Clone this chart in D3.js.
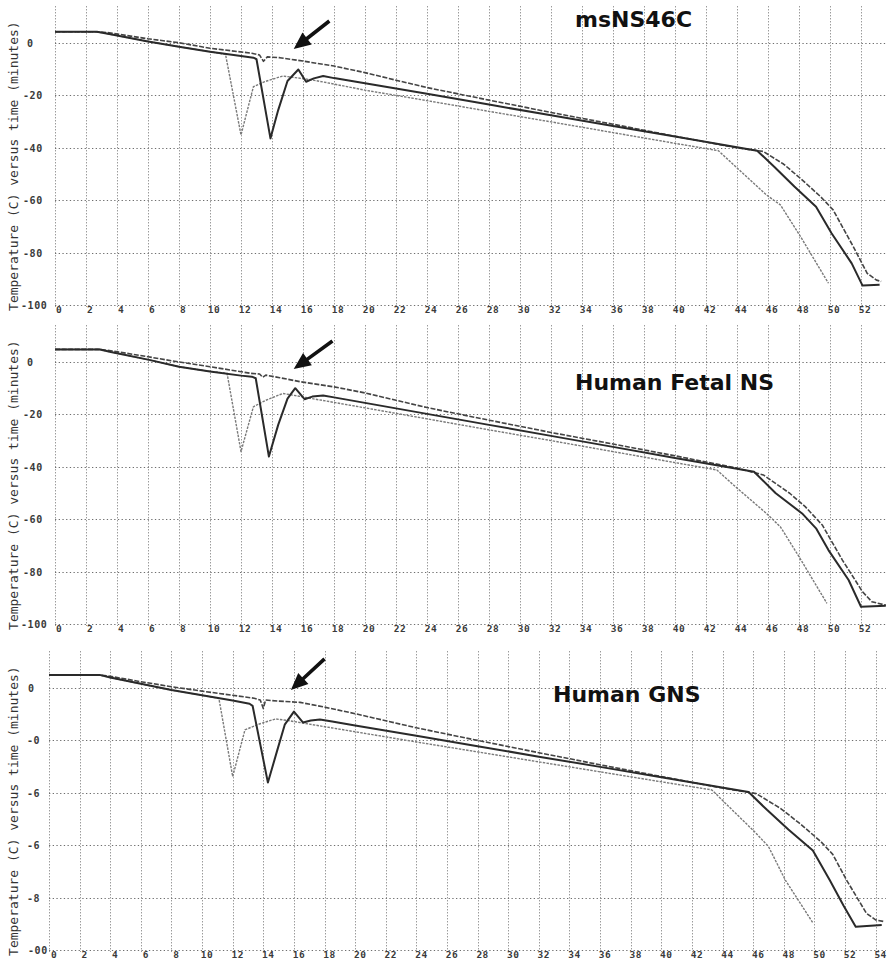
<!DOCTYPE html>
<html>
<head>
<meta charset="utf-8">
<script src="https://cdn.jsdelivr.net/npm/d3@7"></script>
<style>
  body { margin: 0; background: #fff; }
  svg { display: block; }
</style>
</head>
<body>
<svg id="chart" width="889" height="961"></svg>
<script>
// ---- data -------------------------------------------------------------
const panelTitles = ["msNS46C", "Human Fetal NS", "Human GNS"];
const axisTitle = "Temperature (C) versus time (minutes)";

const timeTicks = [0, 2, 4, 6, 8, 10, 12, 14, 16, 18, 20, 22, 24, 26, 28, 30,
                   32, 34, 36, 38, 40, 42, 44, 46, 48, 50, 52, 54];
const tempTicks = [0, -20, -40, -60, -80, -100];
const tempTickLabels = [
  ["0", "-20", "-40", "-60", "-80", "-100"],
  ["0", "-20", "-40", "-60", "-80", "-100"],
  ["0", "-0", "-6", "-6", "-8", "-00"]
];

// msNS46C
const p1SolidTime  = [0, 2.7, 3.5, 6, 8, 10, 12, 12.8, 13.0, 13.9, 14.4, 15.0, 15.7, 16.2, 16.7, 17.3, 18, 20, 24, 28, 32, 36, 40, 45.3, 46.4, 47.7, 49.1, 50.1, 51.4, 52.1, 53.2];
const p1SolidTemp  = [4.3, 4.3, 3.4, 0.6, -1.4, -3.3, -5.0, -5.6, -6.2, -36.4, -25.6, -14.5, -10.1, -14.8, -13.5, -12.6, -13.4, -15.4, -19.4, -23.5, -27.6, -31.7, -35.7, -41.1, -47.2, -54.8, -62.5, -72.6, -84.1, -92.6, -92.3];
const p1DottedTime = [0, 2.7, 3.5, 6, 8, 10, 11.0, 12.0, 12.8, 13.5, 14.7, 15.5, 16.5, 17.5, 20, 24, 28, 32, 36, 40, 42.8, 45.9, 46.8, 48.1, 49.9];
const p1DottedTemp = [4.3, 4.3, 3.4, 0.6, -1.4, -3.3, -4.3, -35.1, -16.7, -14.8, -12.6, -13.2, -14.0, -15.1, -18.0, -22.0, -26.1, -30.1, -34.2, -38.3, -41.1, -58.0, -61.8, -73.9, -91.7];
const p1DashedTime = [0, 2.7, 3.5, 6, 8, 10, 12.7, 13.2, 13.45, 13.7, 14.5, 16, 18, 20, 22, 24, 28, 32, 36, 40, 44, 45.7, 47.0, 48.1, 49.4, 50.2, 51.5, 52.4, 53.0, 53.3];
const p1DashedTemp = [4.3, 4.3, 3.9, 1.6, 0.1, -2.0, -3.9, -4.6, -7.0, -5.3, -5.6, -6.9, -8.8, -11.3, -14.2, -17.0, -21.8, -26.5, -31.0, -35.6, -40.0, -41.4, -46.2, -51.7, -58.7, -63.7, -77.7, -87.9, -90.5, -91.0];

// Human Fetal NS
const p2SolidTime  = [0, 2.9, 3.6, 6, 8, 10, 12, 12.7, 12.95, 13.8, 14.4, 15.0, 15.5, 16.1, 16.6, 17.3, 18, 20, 24, 28, 32, 36, 40, 45.1, 46.5, 48.2, 49.1, 49.9, 51.2, 52.0, 53.6];
const p2SolidTemp  = [4.8, 4.8, 3.8, 0.9, -1.8, -3.6, -5.2, -5.6, -6.2, -36.1, -24.0, -14.0, -10.0, -14.2, -13.2, -12.8, -13.5, -15.6, -19.8, -24.0, -28.2, -32.4, -36.6, -41.9, -50.1, -57.8, -63.5, -71.8, -83.2, -93.4, -93.0];
const p2DottedTime = [0, 2.9, 3.6, 6, 8, 10, 11.1, 12.0, 12.8, 13.6, 14.7, 15.6, 16.5, 17.5, 20, 24, 28, 32, 36, 40, 42.7, 43.9, 45.9, 46.8, 48.0, 49.8];
const p2DottedTemp = [4.8, 4.8, 3.8, 0.9, -1.8, -3.6, -4.3, -34.2, -17.1, -14.6, -12.0, -12.9, -13.9, -14.9, -17.5, -21.7, -25.9, -30.0, -34.2, -38.4, -41.2, -47.6, -57.8, -62.9, -74.3, -92.1];
const p2DashedTime = [0, 2.9, 3.6, 6, 8, 10, 12.6, 13.2, 13.4, 13.6, 14.5, 15.8, 18, 20, 22, 24, 28, 32, 36, 40, 44, 45.7, 47.4, 48.4, 49.5, 50.8, 52.1, 52.7, 53.6];
const p2DashedTemp = [4.8, 4.8, 4.3, 2.0, 0.0, -1.8, -4.3, -4.6, -5.8, -5.0, -6.0, -7.5, -9.5, -11.8, -14.6, -17.4, -22.2, -26.9, -31.3, -35.8, -40.5, -43.1, -50.1, -55.2, -62.2, -75.6, -87.7, -91.5, -92.8];

// Human GNS
const p3SolidTime  = [0, 3.3, 4.0, 6, 8, 10, 12, 13.1, 13.3, 14.3, 14.9, 15.4, 16.0, 16.6, 17.1, 17.7, 18.5, 20, 24, 28, 32, 36, 40, 45.7, 46.9, 48.3, 49.9, 51.0, 51.9, 52.7, 54.4];
const p3SolidTemp  = [5.0, 5.0, 4.0, 1.6, -0.8, -2.8, -4.8, -6.0, -6.8, -36.1, -24.0, -14.0, -9.0, -13.2, -12.4, -12.0, -12.8, -14.3, -18.2, -22.2, -26.2, -30.1, -34.1, -39.7, -46.5, -54.0, -62.0, -73.3, -83.0, -91.1, -90.5];
const p3DottedTime = [0, 3.3, 4.0, 6, 8, 10, 11.1, 12.0, 12.8, 13.6, 14.8, 15.6, 16.4, 20, 24, 28, 32, 36, 40, 43.3, 46.2, 47.0, 48.1, 49.9];
const p3DottedTemp = [5.0, 5.0, 4.0, 1.6, -0.8, -2.8, -4.0, -33.8, -16.0, -14.0, -11.8, -12.4, -13.2, -16.7, -20.6, -24.4, -28.2, -32.0, -35.8, -38.9, -55.5, -60.5, -73.3, -89.6];
const p3DashedTime = [0, 3.3, 4.0, 6, 8, 10, 13.4, 13.8, 14.0, 14.15, 15, 16.4, 18, 20, 22, 24, 28, 32, 36, 40, 44, 46.2, 47.8, 49.0, 50.4, 51.2, 52.1, 53.4, 54.0, 54.6];
const p3DashedTemp = [5.0, 5.0, 4.5, 2.4, 0.5, -1.2, -3.9, -4.6, -7.8, -4.6, -5.0, -5.5, -7.3, -9.8, -12.5, -15.2, -20.0, -24.7, -29.3, -33.8, -38.2, -40.3, -46.0, -51.5, -58.5, -63.5, -73.3, -86.0, -88.5, -89.2];

// arrows pointing at the small notch of the dashed trace: [time, temp]
const arrowTails = [[17.7, 8.4], [17.9, 8.0], [18.0, 11.1]];
const arrowTips  = [[15.4, -2.3], [15.4, -2.7], [15.8, -0.8]];

// ---- layout ------------------------------------------------------------
const W = 889, H = 961;
const layout = [
  { x0: 55, x52: 861, y0: 43,  y100: 305, title: [575, 27] },
  { x0: 55, x52: 861, y0: 362, y100: 624, title: [575, 390] },
  { x0: 49, x52: 845, y0: 688, y100: 950, title: [553, 702] }
];
const rightEdge = 886;

const traces = [
  [[p1SolidTime, p1SolidTemp], [p1DottedTime, p1DottedTemp], [p1DashedTime, p1DashedTemp]],
  [[p2SolidTime, p2SolidTemp], [p2DottedTime, p2DottedTemp], [p2DashedTime, p2DashedTemp]],
  [[p3SolidTime, p3SolidTemp], [p3DottedTime, p3DottedTemp], [p3DashedTime, p3DashedTemp]]
];
const traceStyles = [
  { stroke: "#2a2a2a", width: 2.0, dash: null },
  { stroke: "#7a7a7a", width: 1.4, dash: "2.5,1.2" },
  { stroke: "#444", width: 1.6, dash: "5,1.6" }
];
// dotted first, then dashed, solid on top
const drawOrder = [1, 2, 0];

const svg = d3.select("#chart");
svg.append("rect").attr("width", W).attr("height", H).attr("fill", "#fff");

const monoFont = "'DejaVu Sans Mono', 'Liberation Mono', monospace";

layout.forEach((L, pi) => {
  const x = d3.scaleLinear().domain([0, 52]).range([L.x0, L.x52]);
  const y = d3.scaleLinear().domain([-100, 0]).range([L.y100, L.y0]);
  const g = svg.append("g");
  const yTop = y(14);

  // axis title (drawn first, sits left of the tick labels)
  const ty = y(-47);
  g.append("text")
    .attr("transform", `translate(18,${ty}) rotate(-90)`)
    .attr("text-anchor", "middle")
    .attr("font-family", monoFont)
    .attr("font-size", 13)
    .attr("fill", "#333")
    .text(axisTitle);

  // vertical grid (dotted)
  g.append("g").selectAll("line")
    .data(timeTicks.filter(t => x(t) <= rightEdge))
    .join("line")
    .attr("x1", d => Math.round(x(d)) + 0.5).attr("x2", d => Math.round(x(d)) + 0.5)
    .attr("y1", yTop).attr("y2", y(-100) + 2)
    .attr("stroke", "#6e6e6e").attr("stroke-width", 1)
    .attr("stroke-dasharray", "1,2");

  // horizontal grid (dotted)
  g.append("g").selectAll("line")
    .data(tempTicks)
    .join("line")
    .attr("x1", x(0)).attr("x2", rightEdge)
    .attr("y1", d => Math.round(y(d)) + 0.5).attr("y2", d => Math.round(y(d)) + 0.5)
    .attr("stroke", "#6e6e6e").attr("stroke-width", 1.2)
    .attr("stroke-dasharray", "1.3,2.4");

  // temperature tick labels
  g.append("g").selectAll("text")
    .data(tempTicks)
    .join("text")
    .attr("x", (d, i) => {
      const s = tempTickLabels[pi][i];
      if (s.length === 1) return pi === 2 ? 28 : 27;
      if (pi === 2) return s.length === 3 ? 28 : 27;
      return s.length === 4 ? 21 : 23;
    })
    .attr("y", d => Math.round(y(d)) + 4)
    .attr("font-family", monoFont)
    .attr("font-weight", "bold")
    .attr("font-size", 10)
    .attr("letter-spacing", 0.6)
    .attr("fill", "#3a3a3a")
    .text((d, i) => tempTickLabels[pi][i]);

  // time tick labels along the bottom line
  g.append("g").selectAll("text")
    .data(timeTicks.filter(t => x(t) <= rightEdge))
    .join("text")
    .attr("x", d => x(d) + (pi === 2 ? 5 : 4))
    .attr("y", Math.round(y(-100)) + 8)
    .attr("text-anchor", "middle")
    .attr("font-family", monoFont)
    .attr("font-weight", "bold")
    .attr("font-size", 9.5)
    .attr("letter-spacing", 0.5)
    .attr("fill", "#3a3a3a")
    .text(d => String(d));

  // traces
  const line = d3.line().x(d => x(d[0])).y(d => y(d[1]));
  drawOrder.forEach(k => {
    const [tt, vv] = traces[pi][k];
    const pts = tt.map((t, i) => [t, vv[i]]);
    const st = traceStyles[k];
    g.append("path")
      .datum(pts)
      .attr("d", line)
      .attr("fill", "none")
      .attr("stroke", st.stroke)
      .attr("stroke-width", st.width)
      .attr("stroke-linejoin", "round")
      .attr("stroke-dasharray", st.dash);
  });

  // arrow
  const [tx, tyy] = [x(arrowTails[pi][0]), y(arrowTails[pi][1])];
  const [px, py] = [x(arrowTips[pi][0]), y(arrowTips[pi][1])];
  const len = Math.hypot(px - tx, py - tyy);
  const ux = (px - tx) / len, uy = (py - tyy) / len;
  const nx = -uy, ny = ux;
  const headLen = 17, headHalf = 7.5, shaftHalf = 1.8;
  const bx = px - ux * headLen, by = py - uy * headLen;
  const poly = [
    [tx + nx * shaftHalf, tyy + ny * shaftHalf],
    [bx + nx * shaftHalf, by + ny * shaftHalf],
    [bx + nx * headHalf, by + ny * headHalf],
    [px, py],
    [bx - nx * headHalf, by - ny * headHalf],
    [bx - nx * shaftHalf, by - ny * shaftHalf],
    [tx - nx * shaftHalf, tyy - ny * shaftHalf]
  ];
  g.append("path")
    .attr("d", "M" + poly.map(p => p.join(",")).join("L") + "Z")
    .attr("fill", "#111");

  // panel title
  g.append("text")
    .attr("x", L.title[0]).attr("y", L.title[1])
    .attr("font-family", "'DejaVu Sans', Verdana, sans-serif")
    .attr("font-weight", "bold")
    .attr("font-size", 22)
    .attr("fill", "#111")
    .text(panelTitles[pi]);
});
</script>
</body>
</html>
